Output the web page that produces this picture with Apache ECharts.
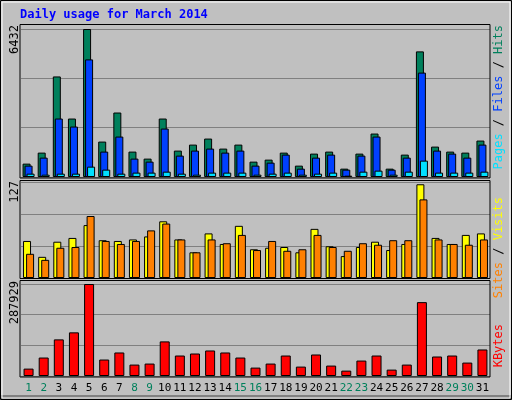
<!DOCTYPE html>
<html><head><meta charset="utf-8">
<script src="https://cdn.jsdelivr.net/npm/echarts@6/dist/echarts.min.js"></script>
<style>html,body{margin:0;padding:0;background:#C0C0C0}#c{width:512px;height:400px}</style>
</head><body><div id="c"></div>
<script>
const days = Array.from({length:31},(_,i)=>String(i+1));
const weekend = [1,2,8,9,15,16,22,23,29,30];
const hits = [581,1060,4370,2541,6432,1539,2802,1104,799,2541,1147,1408,1670,1234,1408,668,755,1060,494,1016,1104,363,1016,1888,363,973,5459,1321,1104,1060,1583];
const files = [494,842,2541,2192,5111,1104,1757,799,668,2105,929,1147,1234,1060,1147,494,624,973,363,842,973,319,929,1757,319,842,4537,1147,1016,842,1408];
const pages = [145,100,145,145,450,320,145,190,190,232,145,100,190,190,190,100,145,190,100,145,190,58,232,276,100,232,711,190,190,190,232];
const visits = [49,28,48,53,70,50,49,51,55,75,51,34,59,45,69,38,40,41,34,65,42,29,41,48,37,45,124,53,45,57,59];
const sites = [32,24,40,41,82,49,45,49,63,72,51,34,51,46,57,37,49,36,38,57,41,36,46,44,50,50,104,51,45,44,51];
const kbytes = [23100,57800,114600,136600,287929,51500,73600,35700,38900,108300,64100,70400,79900,73600,57800,26300,38900,64100,29400,67300,32600,16800,48300,64100,20000,35700,231200,61000,64100,42000,83000];
const maxHits = 6432, maxVisits = 127, maxKB = 287929;

const chart = echarts.init(document.getElementById('c'));
const L = 21, W = 469;
const grids = [{left:L,width:W,top:29,height:148},{left:L,width:W,top:182,height:96},{left:L,width:W,top:284,height:92}];
const maxes = [maxHits, maxVisits, maxKB];
const mono = 'DejaVu Sans Mono';
const xAxes = grids.map((g,i)=>({gridIndex:i,type:'category',data:days,axisLine:{show:false},axisTick:{show:false},
  axisLabel:{show:i===2,interval:0,fontFamily:mono,fontSize:11,margin:7,
    color:(v)=>weekend.includes(+v)?'#00805c':'#000000'}}));
const yAxes = maxes.map((m,i)=>({gridIndex:i,type:'value',min:0,max:m,interval:m/3,axisLabel:{show:false},
  axisLine:{show:false},axisTick:{show:false},splitLine:{show:true,lineStyle:{color:'#808080',width:1}}}));
const bs = {borderColor:'#000',borderWidth:1};
const bar = (name,data,color,x,w,gap,extra)=>Object.assign({name,type:'bar',data,xAxisIndex:x,yAxisIndex:x,barWidth:w,barGap:gap,
  itemStyle:Object.assign({color},bs),animation:false},extra||{});
const series = [
  bar('Hits',hits,'#00805c',0,8,'-75%'),
  bar('Files',files,'#0040ff',0,8,'-75%'),
  bar('Pages',pages,'#00e0ff',0,8,'-75%'),
  bar('Visits',visits,'#ffff00',1,8,'-62%'),
  bar('Sites',sites,'#ff8000',1,8,'-62%'),
  bar('KBytes',kbytes,'#ff0000',2,10,'0%')
];
const frame = (y,h)=>({type:'rect',shape:{x:20,y:y,width:470,height:h},style:{fill:null,stroke:'#000',lineWidth:1},z:100});
const vtext = (x,y,rich,text)=>({type:'text',x:x,y:y,rotation:Math.PI/2,z:100,
  style:{text:text,rich:rich,font:'12px '+mono,align:'right',verticalAlign:'middle',fill:'#000'}});
const rs = c=>({fill:c,font:'12px '+mono});
chart.setOption({
  animation:false,
  grid:grids, xAxis:xAxes, yAxis:yAxes, series:series,
  graphic:[
    {type:'rect',shape:{x:0.5,y:0.5,width:511,height:399},style:{fill:null,stroke:'#000',lineWidth:1},z:90},
    {type:'rect',shape:{x:2,y:2,width:508,height:396},style:{fill:null,stroke:'#ffffff',lineWidth:1},z:90},
    {type:'rect',shape:{x:0,y:395,width:512,height:4},style:{fill:'#808080'},z:89},
    frame(24.5,153.5), frame(180.5,98), frame(280.5,96.5),
    {type:'text',x:20,y:9,z:100,style:{text:'Daily usage for March 2014',font:'bold 12px '+mono,fill:'#0000ff'}},
    vtext(15,25,{},String(maxHits)),
    vtext(15,181,{},String(maxVisits)),
    vtext(15,281,{},String(maxKB)),
    vtext(499,25,{p:rs('#00e0ff'),f:rs('#0040ff'),h:rs('#00805c'),s:rs('#000')},'{p|Pages}{s| / }{f|Files}{s| / }{h|Hits}'),
    vtext(499,197,{v:rs('#ffff00'),t:rs('#ff8000'),s:rs('#000')},'{t|Sites}{s| / }{v|Visits}'),
    vtext(499,324,{k:rs('#ff0000')},'{k|KBytes}')
  ]
});
</script></body></html>
